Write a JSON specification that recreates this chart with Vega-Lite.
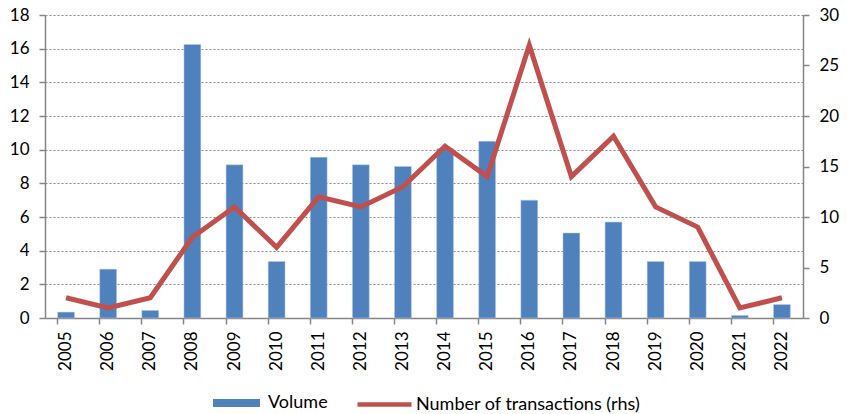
{
  "$schema": "https://vega.github.io/schema/vega-lite/v6.json",
  "width": 758,
  "height": 303,
  "autosize": {"type": "none"},
  "padding": {"left": 45, "top": 15, "right": 44, "bottom": 96},
  "background": "white",
  "config": {
    "view": {"stroke": null},
    "font": "Lato",
    "axis": {
      "labelFont": "Lato",
      "labelFontSize": 17,
      "labelColor": "#000000",
      "domainColor": "#868686",
      "domainWidth": 1.5,
      "tickColor": "#868686",
      "tickWidth": 1.5,
      "tickSize": 6,
      "title": null
    },
    "legend": {
      "labelFont": "Lato",
      "labelFontSize": 18,
      "labelColor": "#000000",
      "labelLimit": 0,
      "layout": {"bottom": {"anchor": "middle", "direction": "horizontal", "margin": 27}}
    }
  },
  "data": {
    "values": [
      {"year": "2005", "volume": 0.35, "transactions": 2},
      {"year": "2006", "volume": 2.9, "transactions": 1},
      {"year": "2007", "volume": 0.45, "transactions": 2},
      {"year": "2008", "volume": 16.25, "transactions": 8},
      {"year": "2009", "volume": 9.1, "transactions": 11},
      {"year": "2010", "volume": 3.35, "transactions": 7},
      {"year": "2011", "volume": 9.55, "transactions": 12},
      {"year": "2012", "volume": 9.1, "transactions": 11},
      {"year": "2013", "volume": 9.0, "transactions": 13},
      {"year": "2014", "volume": 10.05, "transactions": 17},
      {"year": "2015", "volume": 10.5, "transactions": 14},
      {"year": "2016", "volume": 7.0, "transactions": 27},
      {"year": "2017", "volume": 5.05, "transactions": 14},
      {"year": "2018", "volume": 5.7, "transactions": 18},
      {"year": "2019", "volume": 3.35, "transactions": 11},
      {"year": "2020", "volume": 3.35, "transactions": 9},
      {"year": "2021", "volume": 0.15, "transactions": 1},
      {"year": "2022", "volume": 0.8, "transactions": 2}
    ]
  },
  "layer": [
    {
      "mark": {"type": "bar", "stroke": "#B9CDE5", "strokeWidth": 0.5},
      "encoding": {
        "x": {
          "field": "year",
          "type": "nominal",
          "scale": {"paddingInner": 0.6, "paddingOuter": 0.3},
          "axis": {"labelAngle": -90, "labelAlign": "right", "labelBaseline": "middle", "ticks": false, "labelPadding": 13, "domain": true}
        },
        "y": {
          "field": "volume",
          "type": "quantitative",
          "scale": {"domain": [0, 18], "nice": false},
          "axis": {"values": [0, 2, 4, 6, 8, 10, 12, 14, 16, 18], "grid": true, "gridDash": [2, 2], "gridColor": "#8a8a8a", "gridWidth": 1.2, "labelPadding": 10}
        },
        "fill": {
          "datum": "Volume",
          "scale": {"domain": ["Volume"], "range": ["#4F81BD"]},
          "legend": {
            "orient": "bottom",
            "title": null,
            "symbolType": "M-1,-1H10.75V1H-1Z",
            "symbolSize": 64,
            "symbolStrokeWidth": 0,
            "labelOffset": 42,
            "offset": 23
          }
        }
      }
    },
    {
      "mark": {"type": "line", "strokeWidth": 5},
      "encoding": {
        "x": {
          "field": "year",
          "type": "nominal",
          "axis": {"orient": "bottom", "bandPosition": 0, "labels": false, "ticks": true, "domain": false, "grid": false}
        },
        "y": {
          "field": "transactions",
          "type": "quantitative",
          "scale": {"domain": [0, 30], "nice": false},
          "axis": {"orient": "right", "values": [0, 5, 10, 15, 20, 25, 30], "grid": false, "labelPadding": 10}
        },
        "stroke": {
          "datum": "Number of transactions (rhs)",
          "scale": {"domain": ["Number of transactions (rhs)"], "range": ["#C0504D"]},
          "legend": {
            "orient": "bottom",
            "title": null,
            "symbolType": "M-1,0H5.75",
            "symbolSize": 256,
            "symbolStrokeWidth": 4.5,
            "labelOffset": 40,
            "offset": 23
          }
        }
      }
    }
  ],
  "resolve": {"scale": {"y": "independent"}, "axis": {"x": "independent"}}
}
